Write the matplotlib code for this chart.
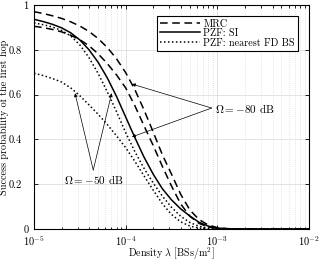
import numpy as np
import matplotlib
matplotlib.use("Agg")
from matplotlib import pyplot as plt
from matplotlib.transforms import ScaledTranslation

# density of BSs [BSs/m^2], roughly 0.1 decade apart
lam = [1e-5, 1.26e-5, 1.58e-5, 2e-5, 2.51e-5, 3.16e-5, 3.98e-5, 5.01e-5, 6.31e-5, 7.94e-5,
       1e-4, 1.26e-4, 1.58e-4, 2e-4, 2.51e-4, 3.16e-4, 3.98e-4, 5.01e-4, 6.31e-4, 7.94e-4,
       1e-3, 1.26e-3, 1.58e-3, 1e-2]

# success probability of the first hop
mrc_a = [0.970, 0.962, 0.952, 0.940, 0.925, 0.906, 0.882, 0.850, 0.810, 0.760,
         0.698, 0.622, 0.533, 0.432, 0.332, 0.245, 0.155, 0.085, 0.042, 0.018,
         0.006, 0.002, 0, 0]
mrc_b = [0.905, 0.899, 0.891, 0.880, 0.865, 0.845, 0.818, 0.782, 0.738, 0.688,
         0.630, 0.550, 0.462, 0.372, 0.280, 0.192, 0.112, 0.057, 0.025, 0.009,
         0.003, 0.001, 0, 0]
pzf_si = [0.936, 0.926, 0.914, 0.898, 0.876, 0.844, 0.800, 0.744, 0.674, 0.592,
          0.500, 0.408, 0.322, 0.244, 0.180, 0.130, 0.090, 0.058, 0.030, 0.013,
          0.004, 0.001, 0, 0]
near_a = [0.920, 0.912, 0.902, 0.886, 0.862, 0.822, 0.765, 0.694, 0.612, 0.524,
          0.430, 0.345, 0.272, 0.205, 0.147, 0.097, 0.057, 0.029, 0.012, 0.004,
          0.001, 0, 0, 0]
near_b = [0.695, 0.685, 0.672, 0.656, 0.630, 0.595, 0.554, 0.512, 0.466, 0.416,
          0.363, 0.302, 0.238, 0.173, 0.113, 0.065, 0.032, 0.013, 0.004, 0.001,
          0, 0, 0, 0]

plt.rcParams['font.family'] = 'serif'
plt.rcParams['font.serif'] = ['cmr10', 'DejaVu Serif']
plt.rcParams['mathtext.fontset'] = 'cm'
plt.rcParams['axes.formatter.use_mathtext'] = True
plt.rcParams['axes.unicode_minus'] = False

fig = plt.figure(figsize=(3.19, 2.62), dpi=100)
ax = fig.add_axes([0.1066, 0.126, 0.8621, 0.855])

lw = 1.1
ax.plot(lam, mrc_a, 'k', ls=(0, (5, 3)), lw=lw, label='MRC')
ax.plot(lam, mrc_b, 'k', ls=(0, (5, 3)), lw=lw)
ax.plot(lam, pzf_si, 'k-', lw=lw, label='PZF: SI')
ax.plot(lam, near_a, 'k', ls=(0, (1, 1.6)), lw=lw, label='PZF: nearest FD BS')
ax.plot(lam, near_b, 'k', ls=(0, (1, 1.6)), lw=lw)

ax.set_xscale('log')
ax.set_xlim(1e-5, 1e-2)
ax.set_ylim(0, 1)
ax.set_yticks([0, 0.2, 0.4, 0.6, 0.8, 1])
ax.set_yticklabels(['0', '0.2', '0.4', '0.6', '0.8', '1'])
ax.grid(True, which='major', color='0.87', lw=0.6, ls='-')
ax.grid(True, which='minor', axis='x', color='0.8', lw=0.5, ls=(0, (1, 2)))
ax.set_axisbelow(True)
ax.tick_params(which='both', direction='in', top=True, right=True, labelsize=7.5, width=0.6)
ax.tick_params(which='major', length=3, pad=4)
ax.tick_params(which='minor', length=1.8)
ax.tick_params(axis='y', pad=9)
for s in ax.spines.values():
    s.set_linewidth(0.8)

# "0" and "1" sit nearer the axis than the decimals
for lab in ax.get_yticklabels():
    if lab.get_text() in ('0', '1'):
        lab.set_transform(lab.get_transform() + ScaledTranslation(5 / 72, 0, fig.dpi_scale_trans))

ax.set_xlabel(r'Density $\lambda$ [BSs/m$^2$]', fontsize=7.2)
ax.set_ylabel('Success probability of the first hop', fontsize=7.3)
ax.xaxis.set_label_coords(0.5, -0.076)
ax.yaxis.set_label_coords(-0.092, 0.5)

leg = ax.legend(loc='upper right', bbox_to_anchor=(0.96, 0.951), borderaxespad=0,
                fontsize=7.3, handlelength=4.0, handletextpad=0.3, labelspacing=0.0,
                borderpad=0.3, fancybox=False, framealpha=1, edgecolor='k')
leg.get_frame().set_linewidth(0.8)

arr = dict(arrowstyle='-|>', lw=0.5, color='k', mutation_scale=5, shrinkA=0, shrinkB=0)
ax.annotate('', xy=(1.17e-4, 0.647), xytext=(8.67e-4, 0.540), arrowprops=arr)
ax.annotate('', xy=(1.17e-4, 0.411), xytext=(8.67e-4, 0.540), arrowprops=arr)
ax.text(9.4e-4, 0.540, r'$\Omega = -80$ dB', fontsize=8, ha='left', va='center')

ax.annotate('', xy=(2.80e-5, 0.606), xytext=(4.43e-5, 0.263), arrowprops=arr)
ax.annotate('', xy=(7.03e-5, 0.606), xytext=(4.43e-5, 0.263), arrowprops=arr)
ax.text(4.43e-5, 0.223, r'$\Omega = -50$ dB', fontsize=8, ha='center', va='center')

plt.savefig('out.png', dpi=100)
